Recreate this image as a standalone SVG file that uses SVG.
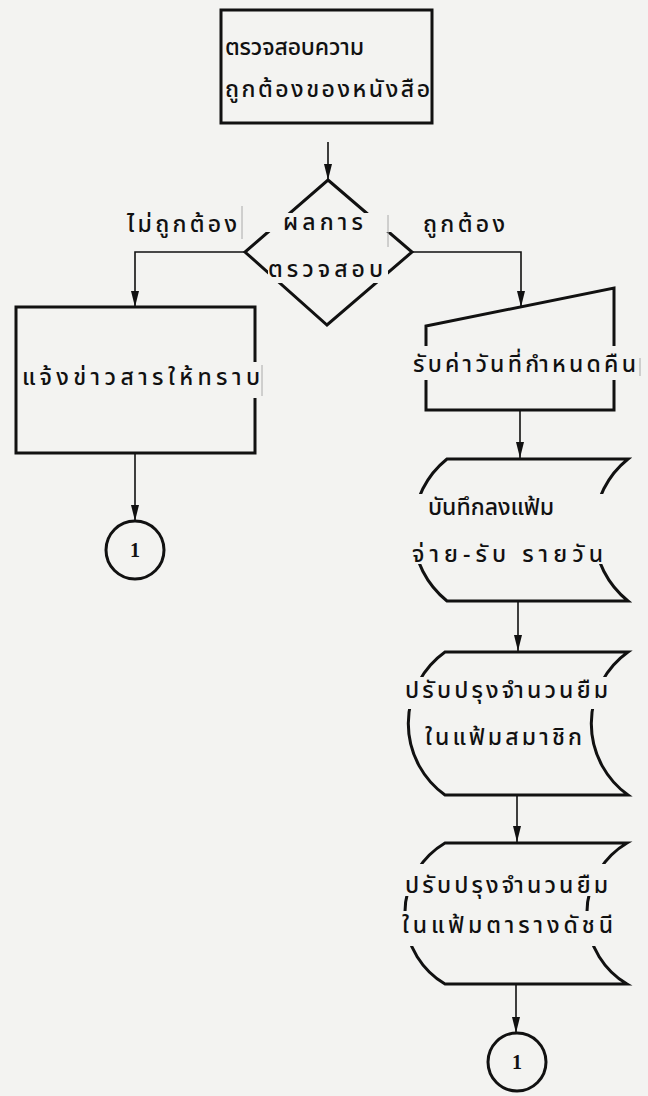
<svg xmlns="http://www.w3.org/2000/svg" width="648" height="1096" viewBox="0 0 648 1096">
<style>
.bg{fill:#f3f3f1}
.node{fill:none;stroke:#111;stroke-width:3;stroke-linejoin:miter}
.conn{fill:none;stroke:#111;stroke-width:1.6}
.art{stroke:#aaa;stroke-width:1}
text{font-family:"Noto Sans Thai","Noto Sans","DejaVu Sans",sans-serif;font-size:23px;font-weight:500;fill:#111}
.num{font-family:"Liberation Serif",serif;font-size:20px;font-weight:bold;text-anchor:middle}
</style>
<defs>
<marker id="arrd" markerUnits="userSpaceOnUse" markerWidth="10" markerHeight="17" viewBox="0 0 10 17" refX="5" refY="17" orient="0">
<path d="M1,1 L9,1 L5,17 Z" fill="#111"/>
</marker>
<mask id="gaps" maskUnits="userSpaceOnUse" x="0" y="0" width="648" height="1096">
<rect x="0" y="0" width="648" height="1096" fill="#fff"/>
<rect x="255" y="213" width="145" height="19" fill="#000"/>
<rect x="268" y="262" width="120" height="21" fill="#000"/>
<rect x="245" y="362" width="25" height="36" fill="#000"/>
<rect x="405" y="346" width="240" height="34" fill="#000"/>
<rect x="400" y="494" width="248" height="70" fill="#000"/>
<rect x="400" y="677" width="248" height="32" fill="#000"/>
<rect x="400" y="864" width="248" height="32" fill="#000"/>
<rect x="400" y="911" width="248" height="35" fill="#000"/>
</mask>
</defs>
<rect class="bg" x="0" y="0" width="648" height="1096"/>

<g id="connectors">
<path class="conn" d="M328,142 V180" marker-end="url(#arrd)"/>
<path class="conn" d="M245,252 H135 V307" marker-end="url(#arrd)"/>
<path class="conn" d="M412,252 H521 V307" marker-end="url(#arrd)"/>
<path class="conn" d="M135,453 V521" marker-end="url(#arrd)"/>
<path class="conn" d="M520,410 V458" marker-end="url(#arrd)"/>
<path class="conn" d="M518,601 V651" marker-end="url(#arrd)"/>
<path class="conn" d="M517,795 V842" marker-end="url(#arrd)"/>
<path class="conn" d="M516,984 V1033" marker-end="url(#arrd)"/>
</g>

<g id="check-book">
<rect class="node" x="221" y="10" width="211" height="113"/>
<text x="225" y="55" textLength="139" lengthAdjust="spacing">ตรวจสอบความ</text>
<text x="225" y="97" textLength="205" lengthAdjust="spacing">ถูกต้องของหนังสือ</text>
</g>

<g id="result-decision">
<path class="node" d="M328,180 L412,252 L327,325 L245,252 Z" mask="url(#gaps)"/>
<text x="283" y="230" textLength="80" lengthAdjust="spacing">ผลการ</text>
<text x="268" y="277" textLength="115" lengthAdjust="spacing">ตรวจสอบ</text>
</g>

<g id="label-no">
<text x="127" y="232" textLength="110" lengthAdjust="spacing">ไม่ถูกต้อง</text>
<line class="art" x1="242" y1="206" x2="242" y2="239"/>
</g>
<g id="label-yes">
<text x="423" y="232" textLength="82" lengthAdjust="spacing">ถูกต้อง</text>
<line class="art" x1="388" y1="215" x2="388" y2="247"/>
</g>

<g id="notify">
<rect class="node" x="16" y="307" width="239" height="146" mask="url(#gaps)"/>
<text x="22" y="385" textLength="238" lengthAdjust="spacing">แจ้งข่าวสารให้ทราบ</text>
<line class="art" x1="262" y1="365" x2="262" y2="396"/>
</g>

<g id="connector-left">
<circle class="node" cx="135" cy="550" r="29"/>
<text class="num" x="135" y="557">1</text>
</g>

<g id="input-due-date">
<path class="node" d="M426,410 V326 L614,288 V410 Z" mask="url(#gaps)"/>
<text x="413" y="372" textLength="223" lengthAdjust="spacing">รับค่าวันที่กำหนดคืน</text>
<line class="art" x1="640" y1="358" x2="640" y2="376"/>
</g>

<g id="daily-file">
<path class="node" d="M447,459 H628 A91,91 0 0 0 628,601 H447 A91,91 0 0 1 447,459 Z" mask="url(#gaps)"/>
<text x="428" y="515">บันทึกลงแฟ้ม</text>
<text x="412" y="562" textLength="191" lengthAdjust="spacing">จ่าย-รับ รายวัน</text>
</g>

<g id="member-file">
<path class="node" d="M445,652 H628 A88,88 0 0 0 628,795 H445 A88,88 0 0 1 445,652 Z" mask="url(#gaps)"/>
<text x="405" y="698" textLength="203" lengthAdjust="spacing">ปรับปรุงจำนวนยืม</text>
<text x="425" y="745" textLength="157" lengthAdjust="spacing">ในแฟ้มสมาชิก</text>
</g>

<g id="index-file">
<path class="node" d="M445,843 H627 A82,82 0 0 0 627,984 H445 A82,82 0 0 1 445,843 Z" mask="url(#gaps)"/>
<text x="405" y="893" textLength="203" lengthAdjust="spacing">ปรับปรุงจำนวนยืม</text>
<text x="402" y="933" textLength="211" lengthAdjust="spacing">ในแฟ้มตารางดัชนี</text>
</g>

<g id="connector-right">
<circle class="node" cx="517" cy="1062" r="29"/>
<text class="num" x="517" y="1069">1</text>
</g>
</svg>
